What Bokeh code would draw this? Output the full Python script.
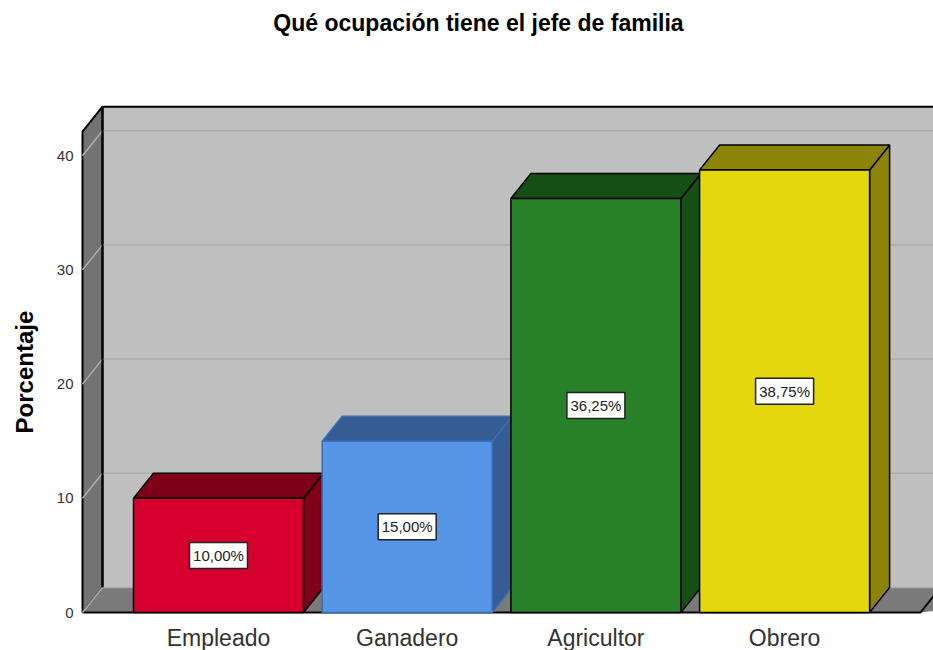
import math
from bokeh.plotting import figure
from bokeh.models import Label, Range1d
from bokeh.core.properties import value
from bokeh.embed import file_html
from bokeh.resources import INLINE

title_text = "Qué ocupación tiene el jefe de familia"
y_label = "Porcentaje"
categories = ["Empleado", "Ganadero", "Agricultor", "Obrero"]
percentages = [10.0, 15.0, 36.25, 38.75]
bar_labels = ["10,00%", "15,00%", "36,25%", "38,75%"]
y_ticks = [0, 10, 20, 30, 40]

front_colors = ["#d5002c", "#5596e6", "#298229", "#e3d70d"]
shade_colors = ["#7f0019", "#365d93", "#164f16", "#8c8406"]
outline_colors = ["#000000", "#3a6fb5", "#000000", "#000000"]

PX_X = 188.7
PX_Y = 11.42
DX = 20 / PX_X
DY = 25 / PX_Y
BAR_W = 170 / PX_X
WALL_L = (82 - 218) / PX_X
FLOOR_R = (920 - 218) / PX_X
WALL_TOP = 42.1
X0, X1 = -218 / PX_X, (933 - 218) / PX_X
Y0, Y1 = -38 / PX_Y, 612 / PX_Y

p = figure(width=933, height=650, output_backend="svg", toolbar_location=None,
           x_range=Range1d(X0, X1), y_range=Range1d(Y0, Y1),
           min_border_left=0, min_border_right=0, min_border_top=0, min_border_bottom=0,
           outline_line_color=None, background_fill_color="white")
p.grid.visible = False
p.xaxis.visible = False
p.yaxis.visible = False

# walls
p.patch([WALL_L + DX, X1, X1, WALL_L + DX], [0 + DY, 0 + DY, WALL_TOP + DY, WALL_TOP + DY],
        fill_color="#bfbfbf", line_color=None)
p.line([WALL_L + DX, X1], [WALL_TOP + DY] * 2, line_color="#000000", line_width=2)
p.patch([WALL_L, WALL_L + DX, WALL_L + DX, WALL_L], [0, DY, WALL_TOP + DY, WALL_TOP],
        fill_color="#737373", line_color="#000000", line_width=2)
p.patch([WALL_L, WALL_L + DX, X1 + 1, FLOOR_R], [0, DY, DY, 0],
        fill_color="#7a7a7a", line_color=None)
p.line([WALL_L, FLOOR_R, X1 + 1], [0, 0, (X1 + 1 - FLOOR_R) / DX * DY], line_color="#000000", line_width=2)

# gridlines on the back wall and left wall
p.multi_line([[WALL_L, WALL_L + DX, X1] for t in y_ticks],
             [[t, t + DY, t + DY] for t in y_ticks],
             line_color="#adadad", line_width=1.5)
p.line([WALL_L + DX, WALL_L + DX], [DY, WALL_TOP + DY], line_color="#000000", line_width=2)

# bars
for i, v in enumerate(percentages):
    l, r = i - BAR_W / 2, i + BAR_W / 2
    oc = outline_colors[i]
    p.patch([r, r + DX, r + DX, r], [0, DY, v + DY, v],
            fill_color=shade_colors[i], line_color=oc, line_width=1.5)
    p.patch([l, l + DX, r + DX, r], [v, v + DY, v + DY, v],
            fill_color=shade_colors[i], line_color=oc, line_width=1.5)
    p.quad(left=l, right=r, bottom=0, top=v,
           fill_color=front_colors[i], line_color=oc, line_width=1.5)

xs = list(range(len(categories)))
ys = [v / 2 for v in percentages]
p.rect(xs, ys, width=58, height=26, width_units="screen", height_units="screen",
       fill_color="white", line_color="#222222", line_width=1.5)
p.text(xs, ys, text=bar_labels, text_align="center", text_baseline="middle",
       text_font=value("Liberation Sans"), text_font_size="15px", text_color="#222222")

# category labels, placed on the scales below the floor
p.text(xs, [-25 / PX_Y] * len(xs), text=categories, text_align="center", text_baseline="middle",
       text_font=value("Liberation Sans"), text_font_size="23px", text_color="#333333")

# y tick labels, placed on the value scale to the left of the wall
p.text([WALL_L - 9 / PX_X] * len(y_ticks), y_ticks, text=[str(t) for t in y_ticks],
       text_align="right", text_baseline="middle",
       text_font=value("Liberation Sans"), text_font_size="15px", text_color="#333333")

p.add_layout(Label(x=(24 - 218) / PX_X, y=WALL_TOP / 2, text=y_label,
                   angle=math.pi / 2, text_align="center", text_baseline="middle",
                   text_font="Liberation Sans", text_font_size="24px",
                   text_font_style="bold", text_color="#000000"))
p.add_layout(Label(x=(478 - 218) / PX_X, y=(612 - 22) / PX_Y, text=title_text,
                   text_align="center", text_baseline="middle",
                   text_font="Liberation Sans", text_font_size="23px",
                   text_font_style="bold", text_color="#000000"))

open("out.html", "w").write(file_html(p, INLINE))
